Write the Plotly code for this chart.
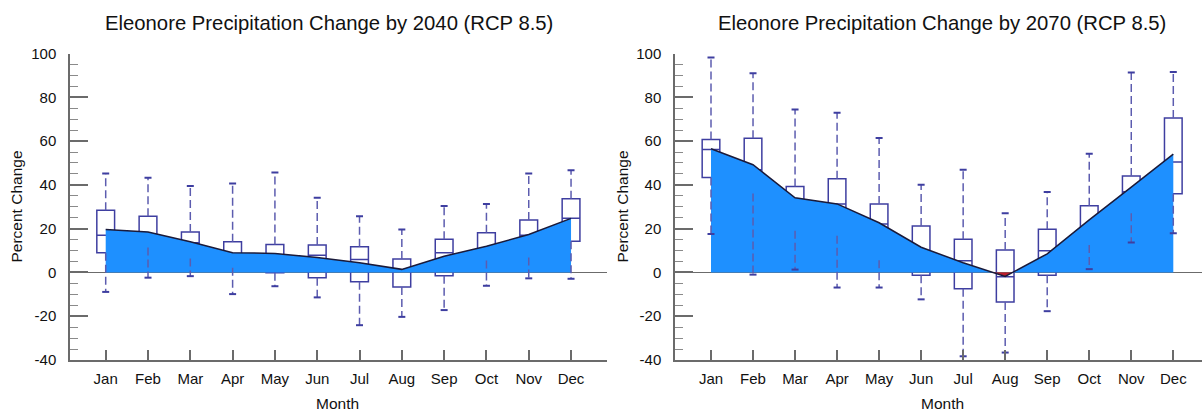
import plotly.graph_objects as go

# Month labels and positions
months = ["Jan", "Feb", "Mar", "Apr", "May", "Jun", "Jul", "Aug", "Sep", "Oct", "Nov", "Dec"]
month_pos = list(range(1, 13))

# Y axis ticks (hyphen minus signs)
y_ticks = [-40, -20, 0, 20, 40, 60, 80, 100]
y_ticktext = [str(v) for v in y_ticks]
y_minor = list(range(-40, 101, 5))

# Projected precipitation change by 2040 (percent)
lo_2040 = [-8.9, -2.4, -1.7, -9.9, -6.3, -11.4, -24.1, -20.3, -17.2, -6.1, -2.7, -2.9]
q1_2040 = [9.0, 11.4, 6.4, 2.1, -0.2, -2.4, -4.3, -6.6, -1.5, 5.5, 6.8, 14.2]
med_2040 = [17.0, 16.3, 13.5, 7.1, 7.1, 7.8, 5.9, 1.0, 9.0, 9.9, 17.0, 24.7]
q3_2040 = [28.4, 25.7, 18.5, 14.0, 12.8, 12.5, 11.7, 6.1, 15.2, 18.1, 23.9, 33.6]
hi_2040 = [45.2, 43.2, 39.5, 40.6, 45.7, 34.1, 25.7, 19.6, 30.3, 31.3, 45.2, 46.7]
mean_2040 = [19.6, 18.5, 14.0, 9.0, 8.7, 6.8, 4.4, 1.4, 7.4, 12.0, 17.3, 24.7]

# Projected precipitation change by 2070 (percent)
lo_2070 = [17.5, -1.0, 1.3, -6.9, -6.9, -12.3, -38.3, -36.6, -17.7, 1.5, 13.7, 17.9]
q1_2070 = [43.4, 36.0, 19.0, 16.8, 5.6, -1.3, -7.4, -13.5, -1.3, 12.5, 27.0, 35.9]
med_2070 = [56.1, 46.9, 31.0, 31.3, 22.1, 7.1, 5.3, -2.0, 9.9, 19.0, 36.9, 50.4]
q3_2070 = [60.7, 61.3, 39.2, 42.8, 31.3, 21.2, 15.1, 10.2, 19.7, 30.5, 44.1, 70.5]
hi_2070 = [98.2, 91.0, 74.4, 72.9, 61.4, 40.0, 46.9, 27.0, 36.7, 54.2, 91.3, 91.6]
mean_2070 = [56.5, 49.2, 34.1, 31.3, 22.7, 11.5, 4.4, -1.8, 8.5, 24.0, 39.0, 54.0]

W, H = 1202, 413
FONT = "Liberation Sans, Arial, sans-serif"
AXIS_GREY = "#6b6b6b"
BOX_COLOR = "rgb(62,62,160)"
WHISKER_COLOR = "rgb(92,92,175)"
POS_FILL = "rgb(30,144,255)"
NEG_FILL = "rgb(190,30,45)"
MEAN_COLOR = "#1a1a3a"


def split_at_zero(xs, ys):
    """Insert zero crossings so positive/negative parts fill cleanly."""
    px, py = [xs[0]], [ys[0]]
    for i in range(1, len(xs)):
        y0, y1 = ys[i - 1], ys[i]
        if (y0 > 0 > y1) or (y0 < 0 < y1):
            t = y0 / (y0 - y1)
            px.append(xs[i - 1] + t * (xs[i] - xs[i - 1]))
            py.append(0.0)
        px.append(xs[i])
        py.append(ys[i])
    return px, py


def add_panel(fig, xa, ya, lo, q1, med, q3, hi, mean):
    xs, ys = split_at_zero(month_pos, mean)
    fig.add_trace(go.Scatter(x=xs, y=[max(v, 0) for v in ys], xaxis=xa, yaxis=ya,
                             mode="lines", line=dict(width=0), fill="tozeroy",
                             fillcolor=POS_FILL, hoverinfo="skip"))
    fig.add_trace(go.Scatter(x=xs, y=[min(v, 0) for v in ys], xaxis=xa, yaxis=ya,
                             mode="lines", line=dict(width=0), fill="tozeroy",
                             fillcolor=NEG_FILL, hoverinfo="skip"))
    # dashed whiskers
    wx, wy = [], []
    for m, a, b, c, d in zip(month_pos, lo, q1, q3, hi):
        wx += [m, m, None, m, m, None]
        wy += [c, d, None, b, a, None]
    fig.add_trace(go.Scatter(x=wx, y=wy, xaxis=xa, yaxis=ya, mode="lines",
                             line=dict(color=WHISKER_COLOR, width=1.5, dash="8px,4px"),
                             hoverinfo="skip"))
    # whisker caps
    fig.add_trace(go.Scatter(x=month_pos + month_pos, y=lo + hi, xaxis=xa, yaxis=ya,
                             mode="markers",
                             marker=dict(symbol="line-ew", size=5,
                                         line=dict(color=BOX_COLOR, width=2)),
                             hoverinfo="skip"))
    # boxes
    fig.add_trace(go.Box(x=month_pos, q1=q1, median=med, q3=q3,
                         lowerfence=q1, upperfence=q3, xaxis=xa, yaxis=ya,
                         width=0.42, whiskerwidth=0, boxpoints=False,
                         fillcolor="rgba(0,0,0,0)",
                         line=dict(color=BOX_COLOR, width=1.5), hoverinfo="skip"))
    # mean line
    fig.add_trace(go.Scatter(x=month_pos, y=mean, xaxis=xa, yaxis=ya, mode="lines",
                             line=dict(color=MEAN_COLOR, width=1.5), hoverinfo="skip"))


fig = go.Figure()
add_panel(fig, "x", "y", lo_2040, q1_2040, med_2040, q3_2040, hi_2040, mean_2040)
add_panel(fig, "x2", "y2", lo_2070, q1_2070, med_2070, q3_2070, hi_2070, mean_2070)

ydom = [1 - 360 / H, 1 - 53.5 / H]


def xaxis_cfg(domain, rng, anchor):
    return dict(domain=domain, range=rng, anchor=anchor, tickmode="array",
                tickvals=month_pos, ticktext=months, ticks="inside", ticklen=10,
                tickwidth=1.5, tickcolor=AXIS_GREY, showline=True, linecolor=AXIS_GREY,
                linewidth=1.5, showgrid=False, zeroline=False, ticklabelstandoff=4,
                automargin=False,
                tickfont=dict(family=FONT, size=15, color="#111"))


def yaxis_cfg(anchor):
    return dict(domain=ydom, range=[-40, 100], anchor=anchor, tickmode="array",
                tickvals=y_ticks, ticktext=y_ticktext,
                ticks="inside", ticklen=18, tickwidth=1.5, tickcolor=AXIS_GREY,
                minor=dict(tickmode="array", tickvals=y_minor, ticks="inside",
                           ticklen=8, tickwidth=1, tickcolor="#8a8a8a"),
                showline=True, linecolor=AXIS_GREY, linewidth=1.5, showgrid=False,
                zeroline=True, zerolinecolor=AXIS_GREY, zerolinewidth=1.2,
                ticklabelstandoff=9, automargin=False,
                tickfont=dict(family=FONT, size=15, color="#111"))


fig.update_layout(
    width=W, height=H, autosize=False,
    margin=dict(l=0, r=0, t=0, b=0, pad=0, autoexpand=False),
    paper_bgcolor="white", plot_bgcolor="white", showlegend=False,
    xaxis=xaxis_cfg([70 / W, 607 / W], [0.156, 12.85], "y"),
    yaxis=yaxis_cfg("x"),
    xaxis2=xaxis_cfg([675 / W, 1.0], [0.1435, 12.683], "y2"),
    yaxis2=yaxis_cfg("x2"),
)

titles = [
    ("Eleonore Precipitation Change by 2040 (RCP 8.5)", 329),
    ("Eleonore Precipitation Change by 2070 (RCP 8.5)", 942),
]
for text, cx in titles:
    fig.add_annotation(text=text, x=cx / W, y=1 - 23 / H, xref="paper", yref="paper",
                       showarrow=False, xanchor="center", yanchor="middle",
                       font=dict(family=FONT, size=20.3, color="#111"))

for cx in (338, 942):
    fig.add_annotation(text="Month", x=cx / W, y=0, xref="paper", yref="paper",
                       showarrow=False, xanchor="center", yanchor="bottom",
                       yshift=-1,
                       font=dict(family=FONT, size=15.5, color="#111"))

for cx in (16, 622):
    fig.add_annotation(text="Percent Change", x=cx / W, y=1 - 206.5 / H, xref="paper",
                       yref="paper", showarrow=False, textangle=-90,
                       xanchor="center", yanchor="middle",
                       font=dict(family=FONT, size=15.5, color="#111"))

fig.write_html("out.html")
